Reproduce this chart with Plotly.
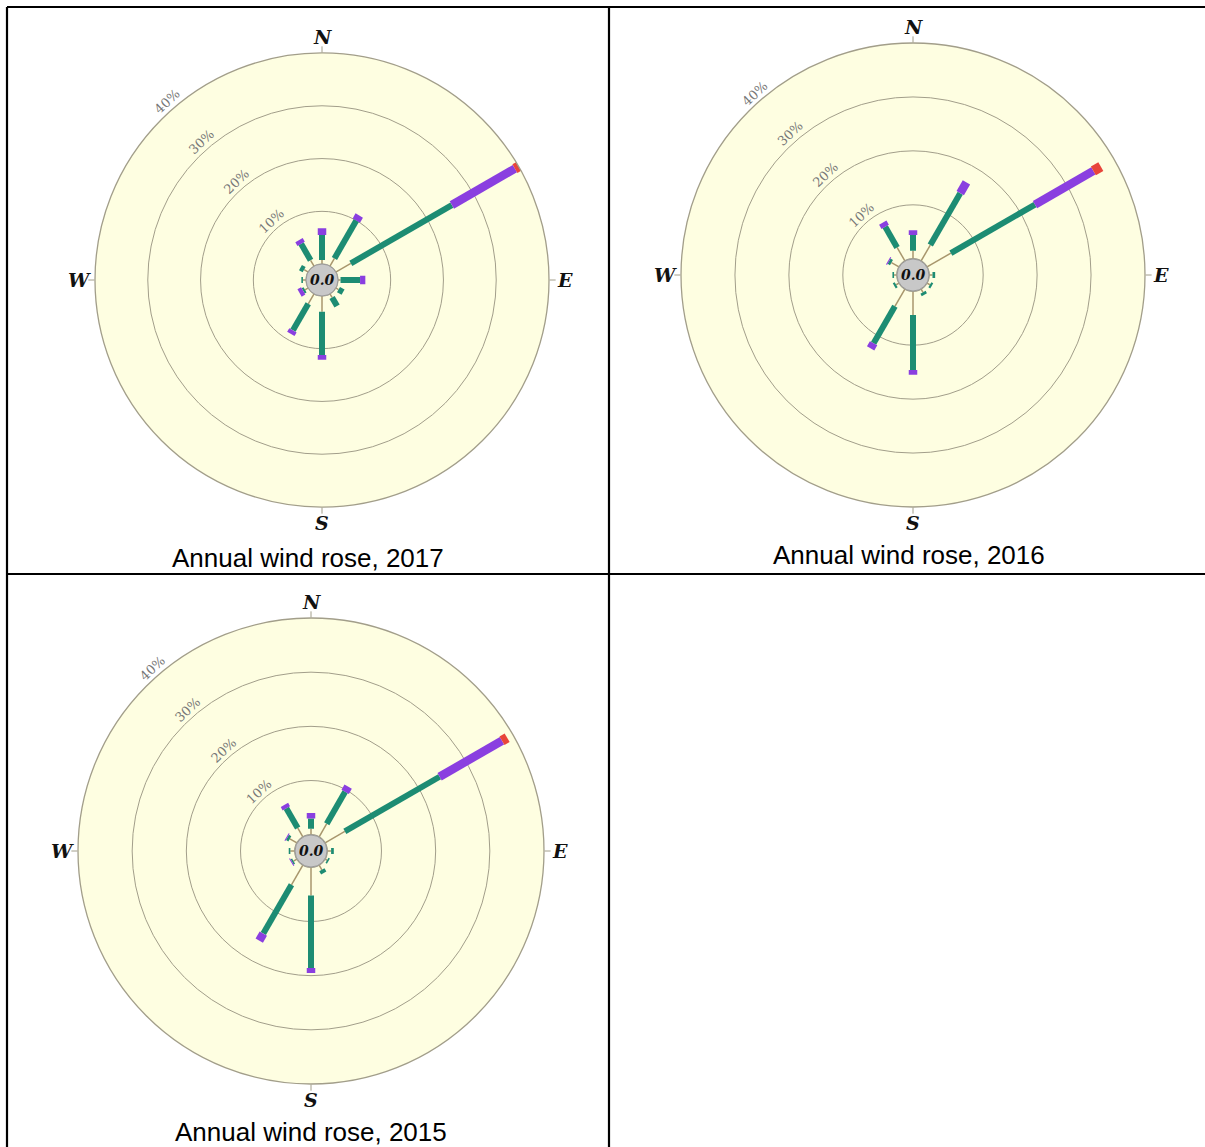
import numpy as np
import plotly.graph_objects as go

FIG_W, FIG_H = 1205, 1147

# Twelve sectors, compass degrees (clockwise from north)
directions = [0, 30, 60, 90, 120, 150, 180, 210, 240, 270, 300, 330]

ring_values = [10, 20, 30, 40]
ring_labels = ["10%", "20%", "30%", "40%"]
compass_angles = [0, 90, 180, 270]
compass_labels = ["N", "E", "S", "W"]
calm_label = "0.0"

# Frequency (%) of each wind-speed class per sector
light_2017 = [0.8, 1.7, 3.3, 0.5, 0.6, 0.8, 3.0, 2.2, 0.7, 0.6, 0.9, 1.3]
moderate_2017 = [4.7, 8.3, 22.1, 3.7, 1.0, 1.9, 8.2, 5.8, 0.4, 0.3, 0.8, 3.6]
fresh_2017 = [1.3, 1.1, 13.8, 1.0, 0.0, 0.0, 0.9, 0.8, 0.8, 0.0, 0.0, 0.8]
strong_2017 = [0.0, 0.0, 0.8, 0.0, 0.0, 0.0, 0.0, 0.0, 0.0, 0.0, 0.0, 0.0]

light_2016 = [1.5, 3.4, 5.1, 0.6, 0.6, 0.7, 4.4, 3.7, 0.6, 0.5, 1.6, 2.9]
moderate_2016 = [2.9, 11.1, 18.0, 0.5, 0.4, 0.5, 10.2, 7.9, 0.4, 0.3, 0.5, 4.4]
fresh_2016 = [0.9, 2.3, 12.5, 0.0, 0.0, 0.0, 0.9, 1.1, 0.0, 0.0, 0.2, 0.9]
strong_2016 = [0.0, 0.0, 1.6, 0.0, 0.0, 0.0, 0.0, 0.0, 0.0, 0.0, 0.0, 0.0]

light_2015 = [1.1, 2.8, 4.2, 0.7, 0.4, 1.0, 5.2, 4.2, 0.7, 0.8, 1.5, 1.9]
moderate_2015 = [1.9, 6.8, 20.2, 0.5, 0.3, 0.7, 13.4, 10.4, 0.3, 0.3, 0.5, 4.2]
fresh_2015 = [1.0, 1.1, 13.3, 0.0, 0.0, 0.0, 0.9, 1.5, 0.2, 0.0, 0.2, 0.7]
strong_2015 = [0.0, 0.0, 1.1, 0.0, 0.0, 0.0, 0.0, 0.0, 0.0, 0.0, 0.0, 0.0]

# Per-class stroke style: (colour, width in px)
class_styles = [
    ("#a8966c", 1.5),
    ("#1d8c73", 6),
    ("#8a3fe0", 8.5),
    ("#e8453a", 10),
]

HOLE = 0.07
BG = "#fefee1"
GRID = "#a29e8a"

# Panel layout: centre (px), outer radius (px), title position (px)
panels = [
    dict(name="polar", year="2017", cx=322, cy=280, R=227, tx=308, ty=558,
         data=[light_2017, moderate_2017, fresh_2017, strong_2017]),
    dict(name="polar2", year="2016", cx=913, cy=275, R=232, tx=909, ty=555,
         data=[light_2016, moderate_2016, fresh_2016, strong_2016]),
    dict(name="polar3", year="2015", cx=311, cy=851, R=233, tx=311, ty=1132,
         data=[light_2015, moderate_2015, fresh_2015, strong_2015]),
]


def px_x(x):
    return x / FIG_W


def px_y(y):
    return 1 - y / FIG_H


def label(x, y, text, font, angle=0):
    return dict(x=px_x(x), y=px_y(y), xref="paper", yref="paper",
                xanchor="center", yanchor="middle", text=text,
                showarrow=False, textangle=angle, font=font)


fig = go.Figure()
shapes = []
annotations = []

for p in panels:
    sub = p["name"]
    base = np.zeros(len(directions))
    for (color, width), values in zip(class_styles, p["data"]):
        values = np.asarray(values, dtype=float)
        r, th = [], []
        for ang, b, v in zip(directions, base, values):
            if v > 0:
                r += [b, b + v, None]
                th += [ang, ang, None]
        base = base + values
        if r:
            fig.add_trace(go.Scatterpolar(
                r=r, theta=th, mode="lines", subplot=sub,
                line=dict(color=color, width=width),
                showlegend=False, hoverinfo="skip",
            ))

    cx, cy, R = p["cx"], p["cy"], p["R"]
    polar_cfg = dict(
        domain=dict(x=[px_x(cx - R), px_x(cx + R)],
                    y=[px_y(cy + R), px_y(cy - R)]),
        hole=HOLE,
        bgcolor=BG,
        angularaxis=dict(
            rotation=90, direction="clockwise",
            tickmode="array", tickvals=compass_angles,
            showticklabels=False,
            ticks="outside", ticklen=6, tickcolor=GRID, tickwidth=1,
            showgrid=False, showline=True, linecolor=GRID, linewidth=1.3,
        ),
        radialaxis=dict(
            range=[0, 40], tickmode="array", tickvals=ring_values[:-1],
            showticklabels=False, ticks="", showline=False,
            gridcolor=GRID, gridwidth=1.3,
        ),
    )
    fig.update_layout(**{sub: polar_cfg})

    # compass letters just outside the rim
    for a, t in zip(compass_angles, compass_labels):
        rad = R + 16
        ar = np.radians(a)
        annotations.append(label(
            cx + rad * np.sin(ar), cy - rad * np.cos(ar), f"<b><i>{t}</i></b>",
            dict(family="DejaVu Serif", size=19, color="#111")))

    # ring labels along the upper-left diagonal
    r_hole = HOLE * R
    ang = np.radians(-41)
    for val, lab in zip(ring_values, ring_labels):
        rad = r_hole + (R - r_hole) * val / 40 + 9
        annotations.append(label(
            cx + rad * np.sin(ang), cy - rad * np.cos(ang), lab,
            dict(family="DejaVu Serif", size=13, color="#777"), angle=-43))

    # calm circle in the middle
    rc = 16
    shapes.append(dict(
        type="circle", xref="paper", yref="paper", layer="above",
        x0=px_x(cx - rc), x1=px_x(cx + rc), y0=px_y(cy + rc), y1=px_y(cy - rc),
        fillcolor="#c8c8c8", line=dict(color="#9a9a9a", width=1),
    ))
    annotations.append(label(
        cx, cy, f"<b><i>{calm_label}</i></b>",
        dict(family="DejaVu Serif", size=14, color="#111")))

    annotations.append(label(
        p["tx"], p["ty"], f"Annual wind rose, {p['year']}",
        dict(family="Liberation Sans, Arial", size=26, color="#000")))

# table frame
frame_lines = [
    (7, 7, FIG_W, 7),
    (7, 7, 7, FIG_H),
    (609, 7, 609, FIG_H),
    (7, 574, FIG_W, 574),
]
for x0, y0, x1, y1 in frame_lines:
    shapes.append(dict(
        type="line", xref="paper", yref="paper", layer="above",
        x0=px_x(x0), y0=px_y(y0), x1=px_x(x1), y1=px_y(y1),
        line=dict(color="#000", width=2.2),
    ))

fig.update_layout(
    width=FIG_W, height=FIG_H,
    margin=dict(l=0, r=0, t=0, b=0),
    paper_bgcolor="white",
    showlegend=False,
    shapes=shapes,
    annotations=annotations,
)

fig.write_html("out.html")
